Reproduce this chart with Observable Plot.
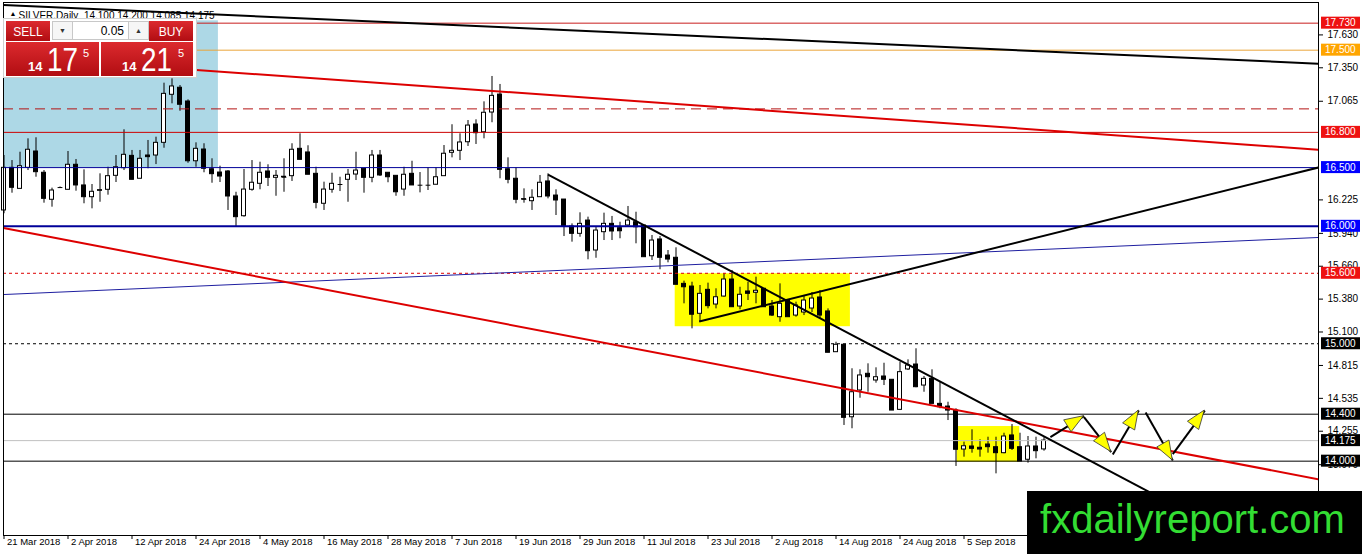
<!DOCTYPE html>
<html><head><meta charset="utf-8">
<script src="https://cdn.jsdelivr.net/npm/d3@7"></script>
<script src="https://cdn.jsdelivr.net/npm/@observablehq/plot@0.6"></script>
<style>
html,body{margin:0;padding:0;background:#fff;overflow:hidden;}
#wrap{position:relative;width:1362px;height:554px;overflow:hidden;font-family:"Liberation Sans",Arial,sans-serif;}
#wrap svg{display:block;}
#overlay{position:absolute;left:0;top:0;pointer-events:none;}
</style></head><body><div id="wrap"></div>
<script>
// ---- data: daily OHLC (bar index 0 = 21 Mar 2018) ----
const open = [
16.135,16.498,16.319,16.498,16.637,16.456,16.226,16.330,16.311,16.524,
16.348,16.248,16.302,16.311,16.430,16.495,16.600,16.405,16.603,16.603,
16.711,17.120,17.180,17.063,16.554,16.654,16.486,16.458,16.467,16.254,
16.086,16.311,16.362,16.467,16.413,16.418,16.427,16.660,16.629,16.447,
16.192,16.311,16.356,16.396,16.441,16.490,16.413,16.603,16.456,16.430,
16.313,16.447,16.350,16.350,16.354,16.427,16.626,16.643,16.716,16.867,
16.801,16.969,17.122,16.486,16.405,16.231,16.214,16.248,16.382,16.262,
16.228,15.998,15.936,16.049,15.794,15.950,16.021,15.984,16.007,16.035,
16.007,15.745,15.888,15.751,15.732,15.510,15.487,15.255,15.459,15.334,
15.402,15.547,15.317,15.445,15.434,15.468,15.317,15.226,15.368,15.240,
15.266,15.300,15.394,15.275,14.928,14.991,14.374,14.602,14.744,14.687,
14.721,14.693,14.437,14.781,14.823,14.644,14.701,14.488,14.465,14.431,
14.099,14.125,14.114,14.142,14.119,14.068,14.219,14.119,14.012,14.125,
14.100];
const high = [
16.603,16.560,16.631,16.745,16.754,16.475,16.325,16.335,16.637,16.569,
16.481,16.356,16.447,16.503,16.603,16.822,16.646,16.646,16.731,16.759,
17.219,17.256,17.199,17.077,16.711,16.703,16.575,16.512,16.475,16.290,
16.484,16.560,16.546,16.524,16.475,16.575,16.703,16.788,16.686,16.503,
16.376,16.452,16.418,16.484,16.631,16.490,16.646,16.646,16.456,16.430,
16.503,16.554,16.458,16.498,16.498,16.688,16.865,16.788,16.901,16.907,
17.060,17.276,17.208,16.583,16.498,16.319,16.311,16.433,16.447,16.311,
16.228,16.021,16.115,16.078,15.992,16.112,16.084,16.035,16.169,16.120,
16.007,15.922,15.913,15.794,15.817,15.533,15.524,15.496,15.516,15.468,
15.596,15.624,15.481,15.524,15.567,15.468,15.368,15.510,15.368,15.354,
15.411,15.436,15.453,15.297,15.013,14.991,14.787,14.778,14.829,14.795,
14.834,14.693,14.843,14.863,14.957,14.721,14.778,14.672,14.502,14.446,
14.162,14.267,14.182,14.204,14.204,14.238,14.312,14.238,14.210,14.204,
14.200];
const low = [
16.107,16.282,16.319,16.475,16.418,16.197,16.163,16.325,16.311,16.299,
16.192,16.149,16.205,16.265,16.373,16.475,16.396,16.405,16.490,16.526,
16.665,17.043,16.980,16.537,16.503,16.456,16.367,16.373,16.135,15.998,
16.078,16.299,16.311,16.339,16.256,16.290,16.382,16.566,16.439,16.149,
16.135,16.282,16.296,16.205,16.390,16.282,16.371,16.424,16.371,16.256,
16.256,16.348,16.285,16.305,16.354,16.427,16.583,16.560,16.680,16.697,
16.745,16.882,16.405,16.362,16.192,16.197,16.135,16.248,16.234,16.092,
15.913,15.865,15.907,15.715,15.728,15.879,15.879,15.894,15.992,15.851,
15.737,15.709,15.630,15.689,15.502,15.340,15.127,15.183,15.297,15.297,
15.396,15.311,15.289,15.368,15.340,15.311,15.232,15.183,15.226,15.226,
15.240,15.266,15.215,14.923,14.928,14.304,14.276,14.536,14.587,14.664,
14.644,14.431,14.431,14.772,14.625,14.587,14.488,14.446,14.346,13.955,
14.034,14.068,14.034,14.068,13.892,14.063,14.091,13.997,13.983,14.020,
14.085];
const close = [
16.498,16.328,16.512,16.652,16.461,16.234,16.305,16.330,16.524,16.348,
16.248,16.294,16.308,16.427,16.503,16.609,16.396,16.575,16.589,16.711,
17.128,17.191,17.035,16.554,16.660,16.490,16.444,16.424,16.254,16.078,
16.313,16.371,16.456,16.413,16.430,16.422,16.652,16.566,16.439,16.200,
16.313,16.362,16.356,16.439,16.475,16.413,16.603,16.433,16.418,16.290,
16.439,16.348,16.350,16.350,16.418,16.618,16.643,16.714,16.858,16.793,
16.967,17.111,16.481,16.396,16.226,16.228,16.243,16.371,16.254,16.220,
15.998,15.936,16.021,15.788,15.964,16.021,15.956,15.958,16.049,15.992,
15.737,15.879,15.732,15.717,15.502,15.481,15.247,15.425,15.320,15.396,
15.547,15.311,15.417,15.425,15.451,15.311,15.240,15.340,15.226,15.326,
15.368,15.385,15.240,14.923,14.991,14.369,14.587,14.730,14.715,14.715,
14.693,14.431,14.758,14.815,14.630,14.701,14.488,14.460,14.431,14.097,
14.127,14.105,14.099,14.119,14.068,14.210,14.105,13.997,14.125,14.085,
14.175];

// x-axis date labels (one every 8 bars)
const xTickIdx = [0,8,16,24,32,40,48,56,64,72,80,88,96,104,112,120];
const xLabels = ["21 Mar 2018","2 Apr 2018","12 Apr 2018","24 Apr 2018","4 May 2018","16 May 2018",
  "28 May 2018","7 Jun 2018","19 Jun 2018","29 Jun 2018","11 Jul 2018","23 Jul 2018",
  "2 Aug 2018","14 Aug 2018","24 Aug 2018","5 Sep 2018"];
// y-axis price ticks (those fully covered by level labels in the original are not shown)
const yTicks = [17.630,17.350,17.065,16.225,15.940,15.660,15.380,15.100,14.815,14.535,14.255,13.970,13.690];

// horizontal levels
const levels = [17.730,17.500,16.800,16.500,16.000,15.600,15.000,14.400,14.175,14.000];
const dashedLevels = [17.000];

// trend lines [i1, p1, i2, p2]
const lineBlackTop = [-0.0625, 17.885, 164.3125, 17.385];
const lineRedUpper = [-0.0625, 17.449, 164.3125, 16.652];
const lineRedLower = [-0.0625, 15.985, 164.3125, 13.846];
const lineBlueThin = [-0.0625, 15.419, 164.3125, 15.905];
const lineBlackDown = [68, 16.441, 143.9, 13.711];
const lineBlackUp = [86.9, 15.189, 164.3125, 16.501];

// zones [i1, i2, pLow, pHigh]
const zoneBlue = [-1, 26.8, 16.500, 17.750];
const zoneYellow1 = [83.9, 105.8, 15.145, 15.596];
const zoneYellow2 = [119.15, 126.97, 13.991, 14.295];

// projected path arrows [i1, p1, i2, p2]
const arrows = [
  [130.8, 14.204, 135.0, 14.383],
  [135.0, 14.375, 138.4, 14.078],
  [138.6, 14.057, 141.85, 14.431],
  [142.7, 14.414, 146.1, 14.006],
  [146.1, 14.060, 150.1, 14.431]
];

// ---- styles ----
const levelStyle = [
  {stroke:"#c81e1e", w:1, dash:null, bg:"#ee1111"},
  {stroke:"#eaa53a", w:1, dash:null, bg:"#ffa500"},
  {stroke:"#cc0000", w:1, dash:null, bg:"#ee1111"},
  {stroke:"#000099", w:1, dash:null, bg:"#0000ff"},
  {stroke:"#000099", w:2, dash:null, bg:"#0000ff"},
  {stroke:"#dd0000", w:1, dash:"3,3", bg:"#ee1111"},
  {stroke:"#000000", w:1, dash:"3,3", bg:"#000000"},
  {stroke:"#000000", w:1, dash:null, bg:"#000000"},
  {stroke:"#c0c0c0", w:1, dash:null, bg:"#000000"},
  {stroke:"#000000", w:1, dash:null, bg:"#000000"}
];

const bars = open.map((o,i)=>({i, o, h: high[i], l: low[i], c: close[i]}));
const upBars = bars.filter(d => d.c > d.o);
const downBars = bars.filter(d => d.c < d.o);
const dojiBars = bars.filter(d => Math.abs(d.c - d.o) < 0.005);
const fmt = d3.format(".3f");
const asLink = a => ({x1:a[0], y1:a[1], x2:a[2], y2:a[3]});
const asZone = z => ({x1:z[0], x2:z[1], y1:z[2], y2:z[3]});
const zoneMark = (z, fill) => Plot.rect([asZone(z)], {x1:"x1", x2:"x2", y1:"y1", y2:"y2", fill, clip:true});
const lineMark = (l, stroke, w) => Plot.link([asLink(l)], {x1:"x1", y1:"y1", x2:"x2", y2:"y2", stroke, strokeWidth:w, clip:true});

const chart = Plot.plot({
  width: 1362, height: 554,
  marginLeft: 3, marginRight: 44, marginTop: 2, marginBottom: 19,
  style: {fontFamily: "Liberation Sans, Arial, sans-serif", fontSize: "10px", background: "white", color: "black", overflow: "visible"},
  x: {type: "linear", domain: [-0.0625, 164.3125], axis: null},
  y: {type: "linear", domain: [13.367, 17.906], axis: null},
  marks: [
    zoneMark(zoneBlue, "#add8e6"),
    zoneMark(zoneYellow1, "#ffff00"),
    zoneMark(zoneYellow2, "#ffff00"),
    Plot.text(["▲"], {frameAnchor: "top-left", dx: 6, dy: 9, fontSize: 7, textAnchor: "start"}),
    Plot.text(["SILVER,Daily  14.100 14.200 14.085 14.175"], {frameAnchor: "top-left", dx: 15, dy: 9, fontSize: 10, textAnchor: "start"}),
    Plot.ruleX(bars, {x: "i", y1: "l", y2: "h", stroke: "black", strokeWidth: 1}),
    Plot.rect(upBars, {x1: d => d.i - 0.25, x2: d => d.i + 0.25, y1: "o", y2: "c", fill: "white", stroke: "black", strokeWidth: 1}),
    Plot.rect(downBars, {x1: d => d.i - 0.25, x2: d => d.i + 0.25, y1: "o", y2: "c", fill: "black", stroke: "black", strokeWidth: 1}),
    Plot.link(dojiBars, {x1: d => d.i - 0.3, x2: d => d.i + 0.3, y1: "o", y2: "o", stroke: "black", strokeWidth: 1}),
    ...levels.map((p, k) => Plot.ruleY([p], {stroke: levelStyle[k].stroke, strokeWidth: levelStyle[k].w, strokeDasharray: levelStyle[k].dash})),
    Plot.ruleY(dashedLevels, {stroke: "#b41414", strokeWidth: 1, strokeDasharray: "10,6"}),
    lineMark(lineBlueThin, "#1f1fa0", 1),
    lineMark(lineRedUpper, "#dd0000", 2),
    lineMark(lineRedLower, "#dd0000", 2),
    lineMark(lineBlackTop, "#000000", 2),
    lineMark(lineBlackDown, "#000000", 2),
    lineMark(lineBlackUp, "#000000", 2),
    Plot.link(arrows.map(asLink), {x1:"x1", y1:"y1", x2:"x2", y2:"y2", stroke: "#000000", strokeWidth: 2, clip: true}),
    (index, scales) => {
      const g = d3.create("svg:g");
      for (const a of arrows) {
        const x1 = scales.x(a[0]), y1 = scales.y(a[1]), x2 = scales.x(a[2]), y2 = scales.y(a[3]);
        const L = Math.hypot(x2 - x1, y2 - y1), ux = (x2 - x1) / L, uy = (y2 - y1) / L;
        const hl = 19, hw = 7;
        const bx = x2 - ux * hl, by = y2 - uy * hl;
        const pts = [[x2, y2], [bx - uy * hw, by + ux * hw], [bx + uy * hw, by - ux * hw]];
        g.append("polygon").attr("points", pts.map(p => p.join(",")).join(" "))
          .attr("fill", "#ffff00").attr("stroke", "#333").attr("stroke-width", 0.8);
      }
      return g.node();
    },
    Plot.frame({stroke: "black"}),
    Plot.axisY({anchor: "right", ticks: yTicks, tickFormat: fmt, tickSize: 4, tickPadding: 5, label: null, fontSize: 10}),
    Plot.axisX({ticks: xTickIdx, tickFormat: () => "", tickSize: 4, label: null}),
    Plot.text(xTickIdx, {x: d => d, text: (d, j) => xLabels[j], frameAnchor: "bottom", dy: 9, dx: 3, textAnchor: "start", fontSize: 9.5}),
    (index, scales, values, dims) => {
      const g = d3.create("svg:g").attr("text-anchor", "start");
      const x0 = dims.width - dims.marginRight + 3;
      levels.forEach((p, k) => {
        const y = scales.y(p);
        g.append("rect").attr("x", x0).attr("y", y - 6).attr("width", 39).attr("height", 12).attr("fill", levelStyle[k].bg);
        g.append("text").attr("x", x0 + 4).attr("y", y).attr("dy", "0.35em").attr("fill", "white")
          .attr("text-anchor", "start").attr("font-size", 10).text(fmt(p));
      });
      return g.node();
    }
  ]
});
const wrap = document.getElementById("wrap");
wrap.appendChild(chart);

// ---- overlay: trade panel and watermark ----
const ov = d3.select(wrap).append("svg").attr("id", "overlay").attr("width", 1362).attr("height", 554)
  .style("font-family", "Liberation Sans, Arial, sans-serif");
const defs = ov.append("defs");
const gr = defs.append("linearGradient").attr("id", "red").attr("x1", 0).attr("y1", 0).attr("x2", 0).attr("y2", 1);
gr.append("stop").attr("offset", "0%").attr("stop-color", "#dc2a2e");
gr.append("stop").attr("offset", "100%").attr("stop-color", "#b10d12");
ov.append("rect").attr("x", 3.5).attr("y", 18.5).attr("width", 193).attr("height", 59).attr("fill", "#fff").attr("stroke", "#d0d0d0");
const btn = (x, y, w, h) => ov.append("rect").attr("x", x).attr("y", y).attr("width", w).attr("height", h).attr("fill", "url(#red)");
btn(6, 21, 44, 20); btn(149, 21, 44, 20); btn(6, 42, 93, 34); btn(101, 42, 92, 34);
ov.append("text").attr("x", 28).attr("y", 35.5).attr("text-anchor", "middle").attr("fill", "#fff").attr("font-size", 12).text("SELL");
ov.append("text").attr("x", 171).attr("y", 35.5).attr("text-anchor", "middle").attr("fill", "#fff").attr("font-size", 12).text("BUY");
const box = (x, w) => ov.append("rect").attr("x", x + 0.5).attr("y", 21.5).attr("width", w).attr("height", 18).attr("fill", "#f6f6f6").attr("stroke", "#c8c8c8");
box(52, 20); box(72, 56).attr("fill", "#fff"); box(128, 20);
ov.append("text").attr("x", 62.5).attr("y", 33).attr("text-anchor", "middle").attr("font-size", 7).attr("fill", "#333").text("▼");
ov.append("text").attr("x", 138.5).attr("y", 33).attr("text-anchor", "middle").attr("font-size", 7).attr("fill", "#333").text("▲");
ov.append("text").attr("x", 124).attr("y", 35).attr("text-anchor", "end").attr("font-size", 12).attr("fill", "#000").text("0.05");
const price = (x14, xBig, x5, big) => {
  ov.append("text").attr("x", x14).attr("y", 71).attr("fill", "#fff").attr("font-size", 13).attr("font-weight", "bold").text("14");
  ov.append("text").attr("x", xBig).attr("y", 71).attr("fill", "#fff").attr("font-size", 33)
    .attr("textLength", 31).attr("lengthAdjust", "spacingAndGlyphs").text(big);
  ov.append("text").attr("x", x5).attr("y", 57).attr("fill", "#fff").attr("font-size", 11).text("5");
};
price(28, 47, 83, "17");
price(122, 141, 178, "21");
ov.append("rect").attr("x", 1027).attr("y", 491).attr("width", 335).attr("height", 63).attr("fill", "#000");
ov.append("text").attr("x", 1040).attr("y", 533).attr("fill", "#33dd33").attr("font-size", 40)
  .attr("textLength", 305).attr("lengthAdjust", "spacingAndGlyphs").text("fxdailyreport.com");
</script></body></html>
